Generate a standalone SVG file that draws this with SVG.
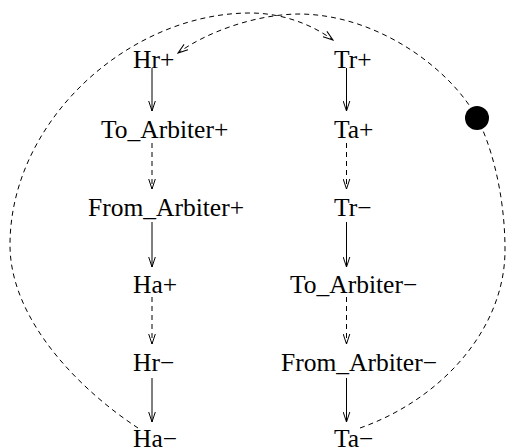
<svg xmlns="http://www.w3.org/2000/svg" width="507" height="448" viewBox="0 0 507 448">
<defs>
<style>
text{font-family:"Liberation Serif","Times New Roman",serif;font-size:25.5px;fill:#000}
.e{fill:none;stroke:#000;stroke-width:1}
.d{stroke-dasharray:5,4}
</style>
<marker id="ah" viewBox="-11 -4 12 8" refX="0" refY="0" markerWidth="12" markerHeight="8" markerUnits="userSpaceOnUse" orient="auto">
<path d="M-10,-3.3 L0,0 L-10,3.3" fill="none" stroke="#000" stroke-width="1"/>
</marker>
</defs>
<rect width="507" height="448" fill="#fff"/>
<g id="connectors">
<path class="e" d="M152,68 V111" marker-end="url(#ah)"/>
<path class="e d" d="M152,143 V189" marker-end="url(#ah)"/>
<path class="e" d="M152,222 V267" marker-end="url(#ah)"/>
<path class="e d" d="M152,297 V344" marker-end="url(#ah)"/>
<path class="e" d="M152,378 V422" marker-end="url(#ah)"/>
<path class="e" d="M346.5,68 V111" marker-end="url(#ah)"/>
<path class="e d" d="M346.5,143 V189" marker-end="url(#ah)"/>
<path class="e" d="M346.5,222 V267" marker-end="url(#ah)"/>
<path class="e d" d="M346.5,297 V344" marker-end="url(#ah)"/>
<path class="e" d="M346.5,378 V422" marker-end="url(#ah)"/>
<path class="e d" d="M138,428 C80,390 10,320 10,245 C10,120 130,13 250,13 C280,13 310,23 333,40" marker-end="url(#ah)"/>
<path class="e d" d="M360,428 C440,400 505,330 505,250 C505,190 489,140 477,118 C452,71 380,15 300,14 C255,14 205,33 178,53" marker-end="url(#ah)"/>
<circle cx="477" cy="118" r="12" fill="#000"/>
</g>
<g id="Hr_plus"><text x="133" y="68">Hr+</text></g>
<g id="To_Arbiter_plus"><text x="101" y="138">To_Arbiter+</text></g>
<g id="From_Arbiter_plus"><text x="88" y="216">From_Arbiter+</text></g>
<g id="Ha_plus"><text x="133" y="293">Ha+</text></g>
<g id="Hr_minus"><text x="133" y="371">Hr−</text></g>
<g id="Ha_minus"><text x="133" y="447">Ha−</text></g>
<g id="Tr_plus"><text x="334" y="68">Tr+</text></g>
<g id="Ta_plus"><text x="334" y="138">Ta+</text></g>
<g id="Tr_minus"><text x="334" y="216">Tr−</text></g>
<g id="To_Arbiter_minus"><text x="290" y="293">To_Arbiter−</text></g>
<g id="From_Arbiter_minus"><text x="281" y="371">From_Arbiter−</text></g>
<g id="Ta_minus"><text x="334" y="447">Ta−</text></g>
</svg>
